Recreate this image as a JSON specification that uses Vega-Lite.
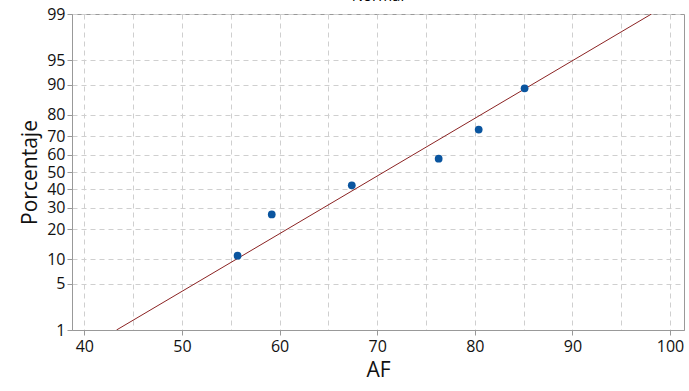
{
  "$schema": "https://vega.github.io/schema/vega-lite/v6.json",
  "width": 612,
  "height": 316,
  "autosize": "none",
  "padding": {"left": 72, "top": 14, "right": 5, "bottom": 61},
  "background": "white",
  "title": {"text": "Normal", "fontSize": 15, "font": "Open Sans", "fontWeight": "normal", "color": "#000", "offset": 2, "anchor": "middle"},
  "config": {
    "view": {"stroke": "#999", "strokeWidth": 1},
    "font": "Open Sans"
  },
  "datasets": {
    "pts": [
      {"AF": 55.7, "p": 10.9},
      {"AF": 59.2, "p": 26.6},
      {"AF": 67.4, "p": 42.2},
      {"AF": 76.3, "p": 57.8},
      {"AF": 80.4, "p": 73.4},
      {"AF": 85.1, "p": 89.1}
    ],
    "fit": [
      {"AF": 43.3, "p": 1},
      {"AF": 98.1, "p": 99}
    ]
  },
  "layer": [
    {
      "data": {"name": "fit"},
      "transform": [{"calculate": "quantileNormal(datum.p/100)", "as": "z"}],
      "mark": {"type": "line", "color": "#8b2323", "strokeWidth": 1, "clip": true},
      "encoding": {
        "x": {"field": "AF", "type": "quantitative"},
        "y": {"field": "z", "type": "quantitative"}
      }
    },
    {
      "data": {"name": "pts"},
      "transform": [{"calculate": "quantileNormal(datum.p/100)", "as": "z"}],
      "mark": {"type": "circle", "color": "#0a559f", "opacity": 1, "size": 60},
      "encoding": {
        "x": {
          "field": "AF", "type": "quantitative",
          "scale": {"domain": [38.74, 101.43], "nice": false, "zero": false},
          "axis": {
            "title": "AF", "titleFontSize": 21, "titleFontWeight": "normal", "titleColor": "#111", "titlePadding": 5,
            "values": [40,45,50,55,60,65,70,75,80,85,90,95,100], "tickCount": 30,
            "labelExpr": "datum.value % 10 === 0 ? datum.label : ''",
            "labelFontSize": 16, "labelColor": "#111", "labelPadding": 3, "labelOverlap": false,
            "tickSize": 5, "tickColor": "#999",
            "tickOpacity": {"condition": {"test": "datum.value % 10 === 0", "value": 1}, "value": 0},
            "domainColor": "#999",
            "grid": true, "gridColor": "#cfcfcf", "gridDash": [5, 4], "gridWidth": 1
          }
        },
        "y": {
          "field": "z", "type": "quantitative",
          "scale": {"domain": [-2.3263, 2.3263], "nice": false, "zero": false},
          "axis": {
            "title": "Porcentaje", "titleFontSize": 21, "titleFontWeight": "normal", "titleColor": "#111", "titlePadding": 6,
            "values": [-2.3263, -1.6449, -1.2816, -0.8416, -0.5244, -0.2533, 0, 0.2533, 0.5244, 0.8416, 1.2816, 1.6449, 2.3263],
            "tickCount": 30,
            "labelExpr": "format(cumulativeNormal(datum.value)*100, '.0f')",
            "labelFontSize": 16, "labelColor": "#111", "labelPadding": 2, "labelOverlap": false, "labelBound": false,
            "tickSize": 5, "tickColor": "#999", "domainColor": "#999",
            "grid": true, "gridColor": "#cfcfcf", "gridDash": [5, 4], "gridWidth": 1
          }
        }
      }
    }
  ]
}
